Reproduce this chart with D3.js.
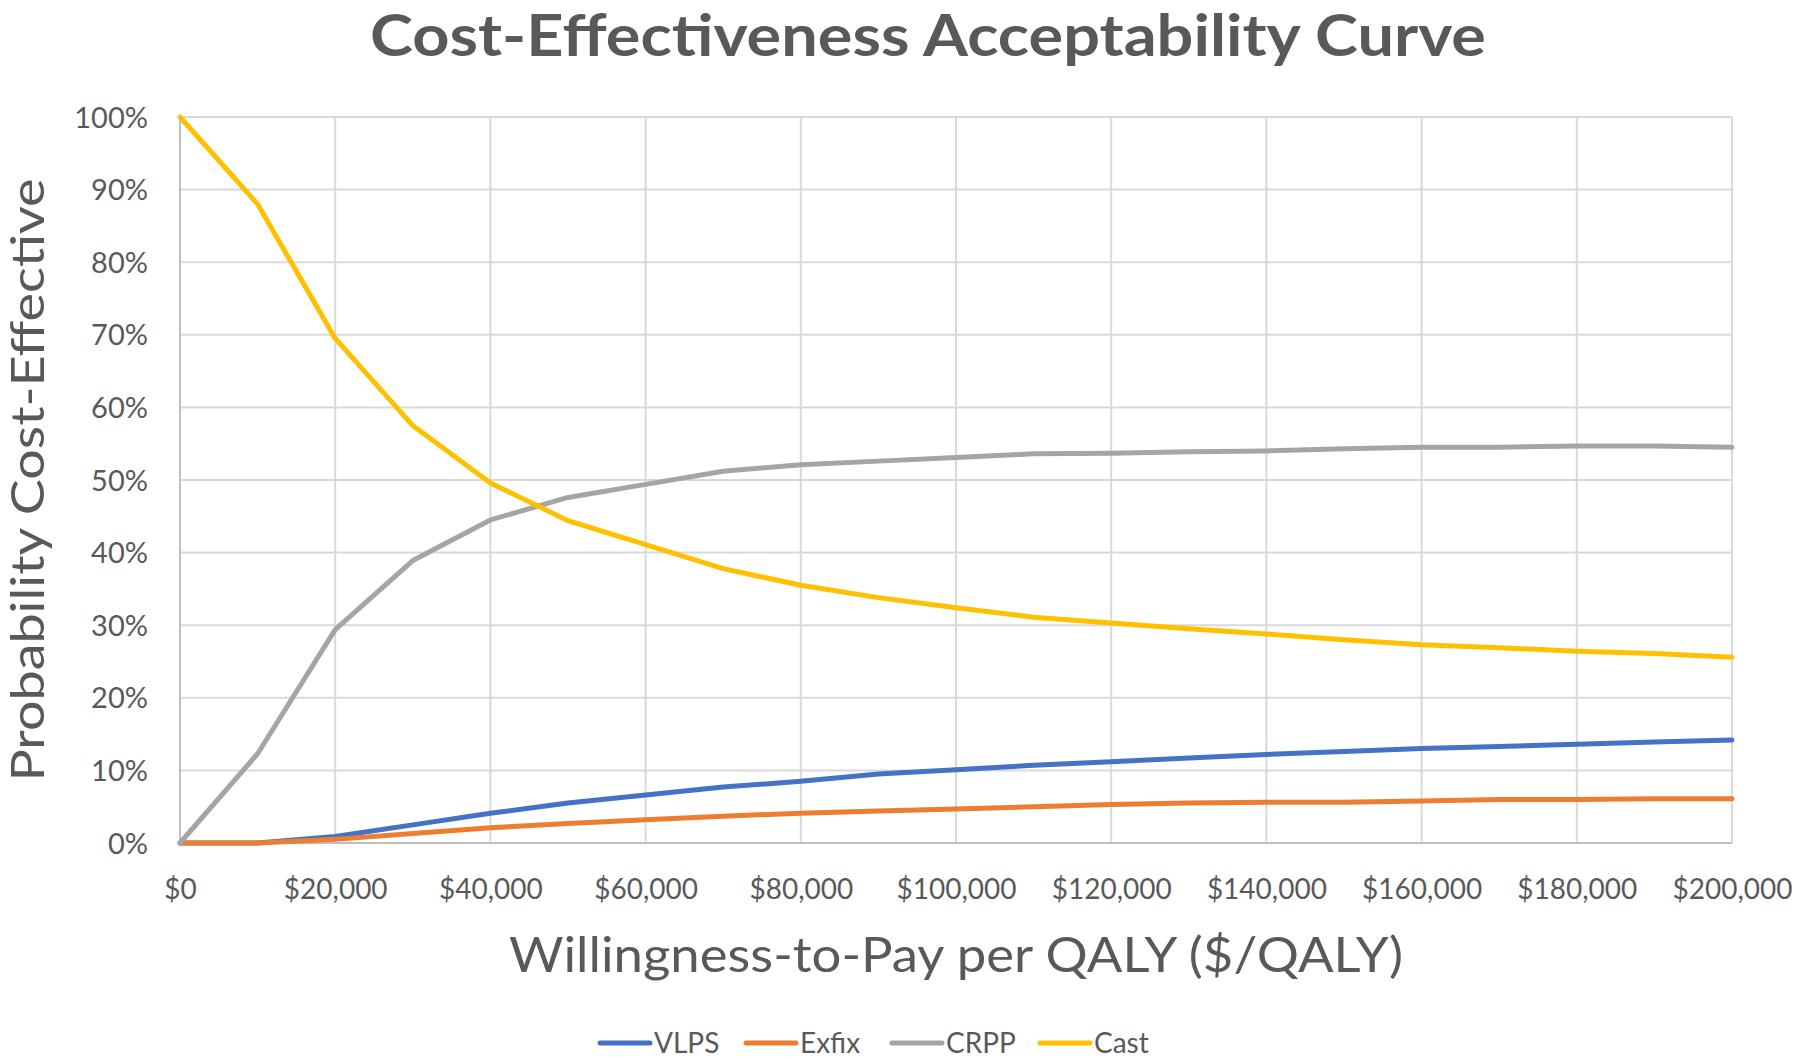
<!DOCTYPE html>
<html>
<head>
<meta charset="utf-8">
<script src="https://cdn.jsdelivr.net/npm/d3@7"></script>
<style>
  html, body { margin: 0; padding: 0; background: #fff; }
  svg { display: block; }
  text { font-family: Lato, "Open Sans", "Liberation Sans", sans-serif; fill: #595959; }
</style>
</head>
<body>
<svg id="chart" width="1800" height="1060"></svg>
<script>
// ---- data ----
const wtp = [0,10000,20000,30000,40000,50000,60000,70000,80000,90000,100000,110000,120000,130000,140000,150000,160000,170000,180000,190000,200000];
const seriesNames = ["VLPS", "Exfix", "CRPP", "Cast"];
const vlps  = [0,0,0.9,2.5,4.1,5.5,6.6,7.7,8.5,9.5,10.1,10.7,11.2,11.7,12.2,12.6,13.0,13.3,13.6,13.9,14.2];
const exfix = [0,0,0.5,1.3,2.1,2.7,3.2,3.7,4.1,4.4,4.7,5.0,5.3,5.5,5.6,5.6,5.8,6.0,6.0,6.1,6.1];
const crpp  = [0,12.3,29.4,38.9,44.5,47.6,49.4,51.2,52.1,52.6,53.1,53.6,53.7,53.9,54.0,54.3,54.5,54.5,54.7,54.7,54.5];
const cast  = [100,88.0,69.5,57.5,49.6,44.4,41.1,37.8,35.5,33.8,32.4,31.1,30.3,29.5,28.8,28.0,27.3,26.9,26.4,26.1,25.6];
const xTicks = [0,20000,40000,60000,80000,100000,120000,140000,160000,180000,200000];
const yTicks = [0,10,20,30,40,50,60,70,80,90,100];
const colors = ["#4472C4", "#ED7D31", "#A5A5A5", "#FFC000"];

const svg = d3.select("#chart");
const x = d3.scaleLinear().domain([0, 200000]).range([180, 1732]);
const y = d3.scaleLinear().domain([0, 100]).range([843, 117]);

// title
svg.append("text")
  .attr("x", 928).attr("y", 56)
  .attr("text-anchor", "middle")
  .style("font-size", "58px").style("font-weight", "bold")
  .attr("textLength", 1116).attr("lengthAdjust", "spacingAndGlyphs")
  .text("Cost-Effectiveness Acceptability Curve");

// gridlines
const g = svg.append("g");
g.selectAll("line.h").data(yTicks.filter(d => d > 0)).join("line")
  .attr("x1", x(0)).attr("x2", x(200000))
  .attr("y1", d => y(d)).attr("y2", d => y(d))
  .attr("stroke", "#D9D9D9").attr("stroke-width", 2);
g.selectAll("line.v").data(xTicks.filter(d => d > 0)).join("line")
  .attr("x1", d => x(d)).attr("x2", d => x(d))
  .attr("y1", y(0)).attr("y2", y(100))
  .attr("stroke", "#D9D9D9").attr("stroke-width", 2);
// axis lines
g.append("line").attr("x1", x(0)).attr("x2", x(0)).attr("y1", y(0)).attr("y2", y(100))
  .attr("stroke", "#BFBFBF").attr("stroke-width", 2);
g.append("line").attr("x1", x(0)).attr("x2", x(200000)).attr("y1", y(0)).attr("y2", y(0))
  .attr("stroke", "#BFBFBF").attr("stroke-width", 2);

// y axis labels
const yAxis = d3.axisLeft(y).tickValues(yTicks).tickSize(0).tickPadding(0).tickFormat(d => d + "%");
const ya = svg.append("g").attr("transform", "translate(148,0)").call(yAxis);
ya.select(".domain").remove();
ya.selectAll("text").style("font-size", "29px").attr("fill", "#595959").attr("font-family", null).attr("dy", "0.35em");

// x axis labels
const fmt = d3.format(",");
const xAxis = d3.axisBottom(x).tickValues(xTicks).tickSize(0).tickPadding(0).tickFormat(d => "$" + fmt(d));
const xa = svg.append("g").attr("transform", "translate(0,879)").call(xAxis);
xa.select(".domain").remove();
xa.selectAll("text").style("font-size", "28px").attr("fill", "#595959").attr("font-family", null).attr("dy", "0.71em");

// axis titles
svg.append("text")
  .attr("transform", "translate(44,480) rotate(-90)")
  .attr("text-anchor", "middle")
  .style("font-size", "46px")
  .attr("textLength", 603).attr("lengthAdjust", "spacingAndGlyphs")
  .text("Probability Cost-Effective");
svg.append("text")
  .attr("x", 956).attr("y", 972)
  .attr("text-anchor", "middle")
  .style("font-size", "48px")
  .attr("textLength", 894).attr("lengthAdjust", "spacingAndGlyphs")
  .text("Willingness-to-Pay per QALY ($/QALY)");

// lines
const allSeries = [vlps, exfix, crpp, cast];
const line = d3.line().x((d, i) => x(wtp[i])).y(d => y(d));
svg.append("g").selectAll("path").data(allSeries).join("path")
  .attr("d", d => line(d))
  .attr("fill", "none")
  .attr("stroke", (d, i) => colors[i])
  .attr("stroke-width", 5)
  .attr("stroke-linejoin", "round")
  .attr("stroke-linecap", "round");

// legend
const legendX = [600, 746, 892, 1040];
const leg = svg.append("g").selectAll("g").data(seriesNames).join("g")
  .attr("transform", (d, i) => `translate(${legendX[i]},1043)`);
leg.append("line").attr("x1", 0).attr("x2", 50).attr("y1", 0).attr("y2", 0)
  .attr("stroke", (d, i) => colors[i]).attr("stroke-width", 5).attr("stroke-linecap", "round");
leg.append("text").attr("x", 54).attr("y", 0).attr("dy", "0.36em")
  .style("font-size", "28px").text(d => d);
</script>
</body>
</html>
